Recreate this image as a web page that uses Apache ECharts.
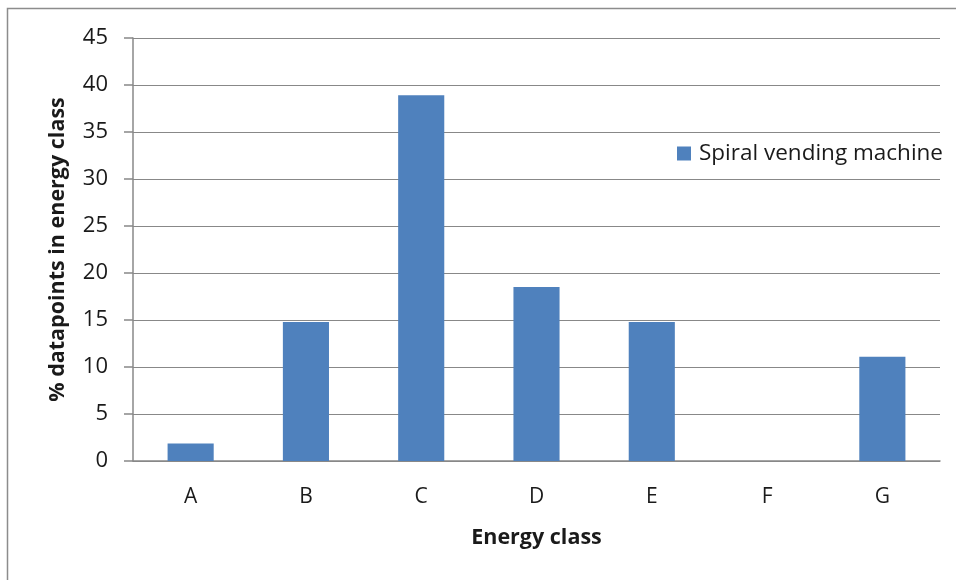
<!DOCTYPE html>
<html><head><meta charset="utf-8">
<script src="https://cdn.jsdelivr.net/npm/echarts@6/dist/echarts.min.js"></script>
<style>html,body{margin:0;padding:0;background:#fff}#c{width:956px;height:580px}</style>
</head><body><div id="c"></div>
<script>
var categories = ['A','B','C','D','E','F','G'];
var values = [1.85, 14.8, 38.9, 18.5, 14.8, 0, 11.1];
var seriesName = 'Spiral vending machine';
var yTicks = {min: 0, max: 45, interval: 5};

var chart = echarts.init(document.getElementById('c'));
var font = '"Open Sans", "Liberation Sans", sans-serif';
chart.setOption({
  animation: false,
  backgroundColor: '#fff',
  graphic: [{type:'rect', shape:{x:7.5,y:8.5,width:1000,height:700}, style:{fill:'none', stroke:'#8c8c8c', lineWidth:1.5}, z:-1}],
  grid: {left:133, right:16, top:38, bottom:119},
  legend: {data:[seriesName], right:10, top:140, itemWidth:14, itemHeight:14, itemGap:8, icon:'rect',
    backgroundColor:'#fff', padding:[2,3,2,4],
    textStyle:{fontFamily:font, fontSize:22.5, color:'#1a1a1a', padding:[0,0,0,3]}},
  xAxis: {type:'category', data:categories, name:'Energy class', nameLocation:'middle', nameGap:66,
    nameTextStyle:{fontFamily:font, fontSize:21.5, fontWeight:'bold', color:'#1a1a1a'},
    axisLine:{lineStyle:{color:'#888', width:1.5}}, axisTick:{length:9, lineStyle:{color:'#888', width:1.5}},
    axisLabel:{fontFamily:font, fontSize:21, color:'#1a1a1a', margin:26}},
  yAxis: {type:'value', min:yTicks.min, max:yTicks.max, interval:yTicks.interval,
    name:'% datapoints in energy class', nameLocation:'middle', nameGap:64,
    nameTextStyle:{fontFamily:font, fontSize:21.5, fontWeight:'bold', color:'#1a1a1a'},
    axisLine:{show:true, lineStyle:{color:'#888', width:1.5}}, axisTick:{show:true, length:9, lineStyle:{color:'#888', width:1.5}},
    splitLine:{lineStyle:{color:'#888', width:1.2}},
    axisLabel:{fontFamily:font, fontSize:22, color:'#1a1a1a', margin:25}},
  series: [{name:seriesName, type:'bar', data:values, barCategoryGap:'60%',
    itemStyle:{color:'#4F81BD'}}]
});
</script></body></html>
